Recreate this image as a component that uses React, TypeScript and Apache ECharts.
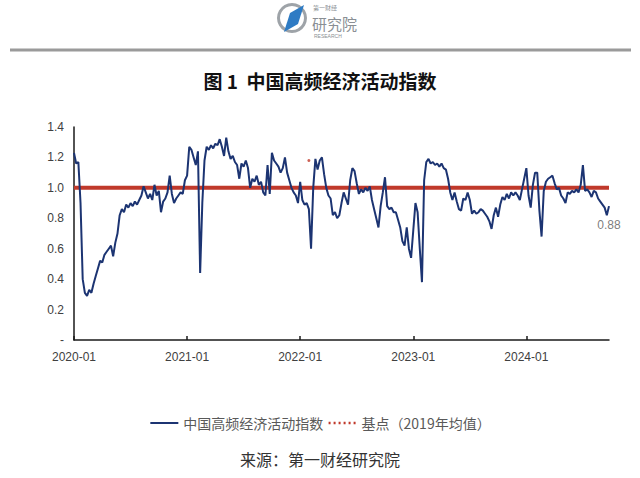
import React, { useEffect, useRef } from "react";
import * as echarts from "echarts";

const START_DATE = "2020-01-01";
const TITLE = "图 1  中国高频经济活动指数";
const SOURCE = "来源：第一财经研究院";
const SERIES_MAIN = "中国高频经济活动指数";
const SERIES_BASE = "基点（2019年均值）";
const BASE_VALUE = 1.0;
const LAST_LABEL = "0.88";
const STRAY_DOT = [108, 1.18];

const v2020 = [1.23, 1.16, 1.17, 0.9, 0.4, 0.31, 0.29, 0.33, 0.31, 0.37, 0.42, 0.47, 0.52, 0.51, 0.56, 0.58, 0.6, 0.62, 0.55, 0.64, 0.7, 0.82, 0.86, 0.84, 0.89, 0.87, 0.9, 0.88, 0.91, 0.89, 0.92, 0.95, 1.01, 0.97, 0.93, 0.96, 0.92, 1.02, 0.95, 0.98, 0.84, 0.91, 0.93, 0.97, 1.08, 0.96, 0.9, 0.93, 0.95, 0.97, 0.96, 1.05, 1.08];
const v2021 = [1.27, 1.25, 1.2, 1.15, 1.24, 0.44, 0.9, 1.18, 1.27, 1.25, 1.28, 1.26, 1.29, 1.28, 1.32, 1.27, 1.21, 1.33, 1.24, 1.19, 1.21, 1.17, 1.15, 1.06, 1.16, 1.14, 1.18, 1.13, 1.0, 1.06, 1.04, 1.08, 1.02, 1.04, 0.97, 0.95, 1.15, 0.96, 1.23, 1.18, 1.16, 1.14, 1.1, 1.13, 1.2, 1.1, 1.05, 1.0, 0.97, 0.95, 0.9, 1.04];
const v2022 = [0.92, 0.89, 0.9, 0.86, 0.6, 1.0, 1.19, 1.12, 1.18, 1.2, 1.09, 1.0, 0.95, 0.93, 0.82, 0.84, 0.8, 0.82, 0.9, 0.97, 0.93, 0.89, 1.05, 1.13, 1.11, 1.03, 0.96, 0.99, 0.97, 1.0, 0.98, 1.01, 0.92, 0.86, 0.8, 0.74, 0.88, 0.97, 1.07, 0.88, 0.86, 0.87, 0.84, 0.84, 0.79, 0.74, 0.65, 0.62, 0.74, 0.6, 0.54, 0.72];
const v2023 = [0.9, 0.84, 0.6, 0.38, 1.05, 1.17, 1.19, 1.16, 1.17, 1.15, 1.16, 1.14, 1.16, 1.13, 1.12, 1.06, 0.97, 0.92, 0.97, 0.91, 0.86, 0.85, 0.93, 0.92, 0.97, 0.92, 0.83, 0.85, 0.83, 0.84, 0.86, 0.85, 0.83, 0.81, 0.78, 0.73, 0.82, 0.87, 0.81, 0.89, 0.94, 0.92, 0.96, 0.93, 0.97, 0.95, 0.97, 0.95, 0.92, 0.99, 1.06, 1.13];
const v2024 = [0.95, 0.87, 1.02, 1.1, 1.1, 0.85, 0.68, 0.98, 1.04, 1.06, 1.07, 1.08, 1.03, 0.99, 1.0, 0.95, 0.93, 0.9, 0.97, 0.96, 0.98, 0.97, 0.99, 0.97, 1.02, 1.15, 0.98, 0.99, 0.97, 0.94, 0.98, 0.97, 0.93, 0.91, 0.89, 0.87, 0.82, 0.88];

const values = [...v2020, ...v2021, ...v2022, ...v2023, ...v2024];

const DAY = 24 * 3600 * 1000;
const startMs = Date.parse(START_DATE + "T00:00:00Z");
const categories = values.map((_, i) => new Date(startMs + i * 7 * DAY).toISOString().slice(0, 10));

const isYearStartWeek = (value: string) => {
  const d = Date.parse(value + "T00:00:00Z");
  const a = new Date(d - DAY).getUTCFullYear();
  const b = new Date(d + 6 * DAY).getUTCFullYear();
  return a !== b;
};
const yearLabel = (value: string) => {
  const d = Date.parse(value + "T00:00:00Z");
  return new Date(d + 6 * DAY).getUTCFullYear() + "-01";
};

const CJK = "'Noto Sans CJK SC', sans-serif";
const LATIN = "'Liberation Sans', 'Noto Sans', sans-serif";
const RED = "#C0392B";
const BLUE = "#1C3472";
const HIDDEN = { color: "rgba(0,0,0,0)", borderColor: "rgba(0,0,0,0)", borderWidth: 0 };

export default function App() {
  const ref = useRef<HTMLDivElement>(null);
  useEffect(() => {
    if (!ref.current) return;
    const chart = echarts.init(ref.current, null, { renderer: "svg" });
    const lastIdx = values.length - 1;
    chart.setOption({
      animation: false,
      backgroundColor: "#ffffff",
      grid: { left: 74, right: 31, top: 127, bottom: 138, containLabel: false, outerBoundsMode: "none" },
      legend: {
        top: 411,
        left: "center",
        itemWidth: 28,
        itemHeight: 6,
        itemGap: 4,
        textStyle: { color: "#595959", fontSize: 14, fontFamily: CJK },
        data: [
          { name: SERIES_MAIN, itemStyle: HIDDEN, lineStyle: { width: 2, color: BLUE } },
          { name: SERIES_BASE, itemStyle: HIDDEN, lineStyle: { type: [2, 3], width: 2.5, color: RED } },
        ],
      },
      xAxis: {
        type: "category",
        data: categories,
        boundaryGap: false,
        axisLine: { lineStyle: { color: "#1a1a1a", width: 1.5 } },
        axisTick: {
          show: true,
          inside: true,
          length: 4,
          interval: (_i: number, v: string) => isYearStartWeek(v),
          lineStyle: { color: "#1a1a1a", width: 1.5 },
        },
        axisLabel: {
          interval: (_i: number, v: string) => isYearStartWeek(v),
          formatter: (v: string) => yearLabel(v),
          color: "#404040",
          fontSize: 12,
          fontFamily: LATIN,
          margin: 11,
        },
        splitLine: { show: false },
      },
      yAxis: {
        type: "value",
        min: 0,
        max: 1.4,
        interval: 0.2,
        axisLine: { show: true, lineStyle: { color: "#1a1a1a", width: 1.5 } },
        axisTick: { show: false },
        splitLine: { show: false },
        axisLabel: {
          formatter: (v: number) => (Math.abs(v) < 1e-9 ? "-" : v.toFixed(1)),
          color: "#404040",
          fontSize: 12,
          fontFamily: LATIN,
          margin: 10,
        },
      },
      series: [
        {
          name: SERIES_BASE,
          type: "line",
          data: values.map(() => BASE_VALUE),
          symbol: "none",
          lineStyle: { color: RED, width: 4 },
          itemStyle: { color: RED },
          z: 3,
        },
        {
          name: SERIES_MAIN,
          type: "line",
          data: values,
          symbol: "none",
          lineStyle: { color: BLUE, width: 2 },
          itemStyle: { color: BLUE },
          z: 4,
        },
        {
          name: "dot",
          type: "scatter",
          data: [STRAY_DOT],
          symbolSize: 3,
          itemStyle: { color: RED },
          z: 5,
        },
        {
          name: "lastLabel",
          type: "scatter",
          data: [[lastIdx, values[lastIdx]]],
          symbolSize: 2,
          itemStyle: { color: "rgba(0,0,0,0)" },
          label: {
            show: true,
            position: "bottom",
            distance: 12,
            formatter: LAST_LABEL,
            color: "#595959",
            fontSize: 12,
            fontFamily: LATIN,
          },
          z: 5,
        },
      ],
      graphic: [
        {
          type: "ring",
          shape: { cx: 292, cy: 18, r: 15, r0: 12 },
          style: { fill: "#9ea3a8" },
        },
        {
          type: "polygon",
          shape: { points: [[290, 13], [304, 5], [298, 24], [284, 32]] },
          style: { fill: "#2E7BC4" },
        },
        {
          type: "text",
          style: { x: 313, y: 4, text: "第一财经", fontSize: 6, lineHeight: 6, fill: "#8a8f94", fontFamily: CJK },
        },
        {
          type: "text",
          style: { x: 312, y: 16, text: "研究院", fontSize: 15, lineHeight: 15, fill: "#8a8f94", fontFamily: CJK },
        },
        {
          type: "text",
          style: { x: 314, y: 33, text: "RESEARCH", fontSize: 5, lineHeight: 5, fill: "#8a8f94", fontFamily: LATIN },
        },
        {
          type: "rect",
          shape: { x: 10, y: 48.5, width: 621, height: 3 },
          style: { fill: "#9a9a9a" },
        },
        {
          type: "text",
          style: {
            x: 320,
            y: 80,
            text: TITLE,
            align: "center",
            verticalAlign: "middle",
            fontSize: 19,
            fontWeight: "bold",
            fill: "#111111",
            fontFamily: CJK,
          },
        },
        {
          type: "text",
          style: {
            x: 320,
            y: 459,
            text: SOURCE,
            align: "center",
            verticalAlign: "middle",
            fontSize: 16,
            fill: "#333333",
            fontFamily: CJK,
          },
        },
      ],
    });
    return () => chart.dispose();
  }, []);
  return (
    <div
      ref={ref}
      style={{ position: "fixed", left: 0, top: 0, width: 640, height: 478, background: "#fff" }}
    />
  );
}
